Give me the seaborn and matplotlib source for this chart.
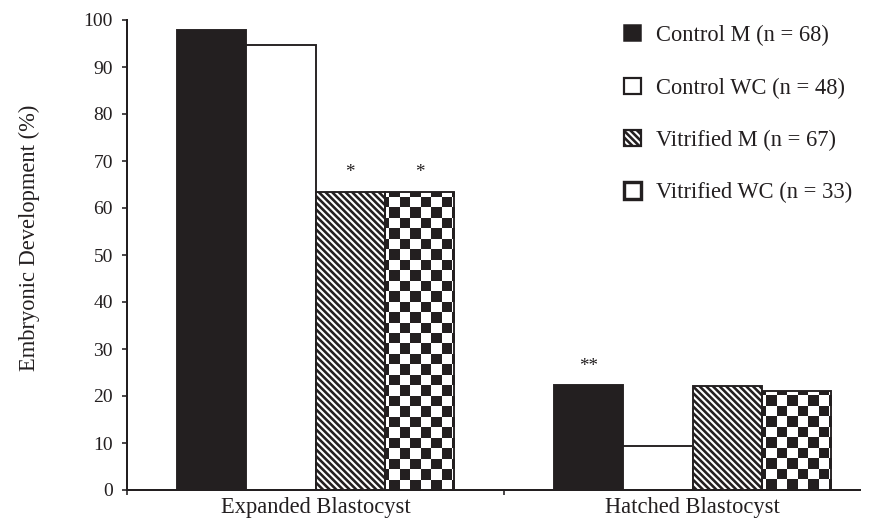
import numpy as np
import pandas as pd
import matplotlib
matplotlib.use("Agg")
import matplotlib.pyplot as plt
from matplotlib.patches import Patch
from matplotlib.colors import ListedColormap
import seaborn as sns

# ---- data -------------------------------------------------------------
stages = ["Expanded Blastocyst", "Hatched Blastocyst"]
groups = ["Control M (n = 68)", "Control WC (n = 48)",
          "Vitrified M (n = 67)", "Vitrified WC (n = 33)"]
control_m = [97.9, 22.3]
control_wc = [94.6, 9.4]
vitrified_m = [63.5, 22.1]
vitrified_wc = [63.5, 21.1]
# significance marks per group, one per stage
sig_control_m = ["", "**"]
sig_control_wc = ["", ""]
sig_vitrified_m = ["*", ""]
sig_vitrified_wc = ["*", ""]
y_ticks = list(range(0, 101, 10))

# ---- sizes ------------------------------------------------------------
DPI = 120
W, H = 878, 520


def pt(px):
    """pixels -> points at the figure dpi"""
    return px * 72.0 / DPI


ink = "#231f20"
stripes = "\\" * 6

sns.set_theme(style="ticks")
plt.rcParams["font.family"] = ["Liberation Serif", "DejaVu Serif"]
plt.rcParams["hatch.linewidth"] = pt(2.6)
plt.rcParams["text.color"] = ink
plt.rcParams["axes.labelcolor"] = ink
plt.rcParams["xtick.color"] = ink
plt.rcParams["ytick.color"] = ink
plt.rcParams["axes.edgecolor"] = ink

fig = plt.figure(figsize=(W / DPI, H / DPI), dpi=DPI)
fig.patch.set_facecolor("white")
ax = fig.add_axes([127 / W, 30 / H, 733 / W, 470 / H])

series = [control_m, control_wc, vitrified_m, vitrified_wc]
df = pd.DataFrame({
    "stage": [s for _ in groups for s in stages],
    "group": [g for g in groups for _ in stages],
    "value": [v for vals in series for v in vals],
})

sns.barplot(data=df, x="stage", y="value", hue="group",
            order=stages, hue_order=groups,
            palette=[ink, "white", "white", "white"], saturation=1,
            width=0.735, edgecolor=ink, linewidth=pt(1.9),
            errorbar=None, legend=False, ax=ax)

# diagonal stripes for vitrified M
for bar in ax.containers[2]:
    bar.set_hatch(stripes)

# checkerboard fill for vitrified WC, clipped to each bar
nrows, ncols = 45, 70
cells = np.add.outer(np.arange(nrows), np.arange(ncols)) % 2
for bar in ax.containers[3]:
    bar.set_facecolor("none")
    im = ax.imshow(cells, cmap=ListedColormap(["white", ink]),
                   extent=[0, 1, 0, 1], transform=ax.transAxes,
                   interpolation="nearest", aspect="auto", zorder=0.9)
    im.set_clip_path(bar)

# significance asterisks above bars
for cont, sig in zip(ax.containers,
                     [sig_control_m, sig_control_wc, sig_vitrified_m, sig_vitrified_wc]):
    for bar, s in zip(cont, sig):
        if s:
            ax.annotate(s, (bar.get_x() + bar.get_width() / 2, bar.get_height()),
                        xytext=(0, pt(19)), textcoords="offset points",
                        ha="center", va="center", fontsize=pt(19))

# ---- axes -------------------------------------------------------------
ax.set_ylim(0, 100)
ax.set_xlim(-0.5, 1.444)
ax.set_yticks(y_ticks)
ax.set_xticks([-0.5, 0.5])
ax.set_xticklabels(["", ""])
ax.set_xticks([0, 1], minor=True)
ax.set_xticklabels(stages, minor=True)
ax.tick_params(axis="x", which="minor", length=0, pad=pt(7), labelsize=pt(22.5))
ax.tick_params(axis="x", which="major", length=pt(5), width=pt(1.6), direction="out")
ax.tick_params(axis="y", length=pt(5), width=pt(1.6), direction="out",
               pad=pt(9), labelsize=pt(19.5))
ax.set_xlabel("")
ax.set_ylabel("Embryonic Development (%)", fontsize=pt(22.5))
ax.yaxis.set_label_coords(-0.119, 0.536)
sns.despine(ax=ax)
for side in ("left", "bottom"):
    ax.spines[side].set_linewidth(pt(2))
ax.set_facecolor("white")

# ---- legend -----------------------------------------------------------
handles = [
    Patch(facecolor=ink, edgecolor=ink, linewidth=pt(1.5)),
    Patch(facecolor="white", edgecolor=ink, linewidth=pt(2.2)),
    Patch(facecolor="white", edgecolor=ink, hatch=stripes, linewidth=pt(2.2)),
    Patch(facecolor="white", edgecolor=ink, linewidth=pt(3.4)),
]
ax.legend(handles, groups, loc="upper left",
          bbox_to_anchor=(624 / W, 1 - 25 / H), bbox_transform=fig.transFigure,
          frameon=False, fontsize=pt(22.5), handlelength=0.74, handleheight=0.74,
          handletextpad=0.7, labelspacing=1.39, borderpad=0, borderaxespad=0)

fig.savefig("out.png", dpi=DPI, facecolor="white")
